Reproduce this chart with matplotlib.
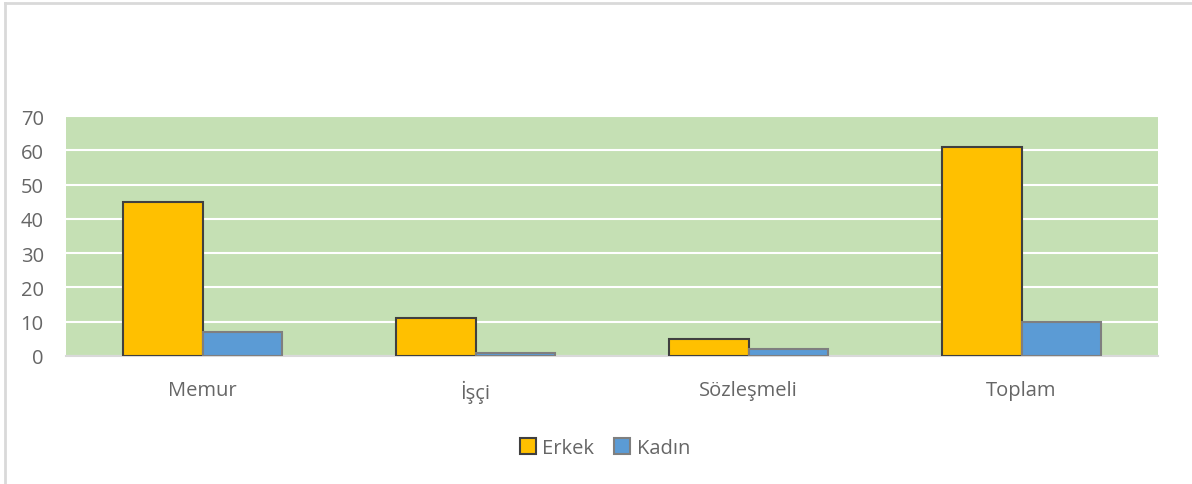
import matplotlib.pyplot as plt
import numpy as np

categories = ['Memur', 'İşçi', 'Sözleşmeli', 'Toplam']
erkek = [45, 11, 5, 61]
kadin = [7, 1, 2, 10]
yticks = [0, 10, 20, 30, 40, 50, 60, 70]

plt.rcParams['font.family'] = ['Open Sans', 'DejaVu Sans']

fig = plt.figure(figsize=(11.92, 4.85), dpi=100)
ax = fig.add_axes([66 / 1192, 128 / 485, 1092 / 1192, 240 / 485])
ax.set_facecolor('#C5E0B4')

x = np.arange(len(categories))
w = 0.29
ax.bar(x - w / 2, erkek, w, color='#FFC000', edgecolor='#404040', linewidth=1.5,
       label='Erkek', zorder=3)
ax.bar(x + w / 2, kadin, w, color='#5B9BD5', edgecolor='#7F7F7F', linewidth=1.5,
       label='Kadın', zorder=3)

ax.set_xlim(-0.5, len(categories) - 0.5)
ax.set_ylim(0, 70)
ax.set_yticks(yticks)
ax.yaxis.grid(True, color='white', linewidth=1.5, zorder=1)
ax.set_axisbelow(True)
for s in ['top', 'right', 'left']:
    ax.spines[s].set_visible(False)
ax.spines['bottom'].set_color('#D9D9D9')
ax.spines['bottom'].set_linewidth(1.5)

ax.set_xticks(x)
ax.set_xticklabels(categories)
ax.tick_params(axis='both', length=0, labelsize=14.5, labelcolor='#666666')
ax.tick_params(axis='x', pad=17)
ax.tick_params(axis='y', pad=16)

fig.legend(loc='center', bbox_to_anchor=(605 / 1192, 1 - 449 / 485), ncol=2,
           frameon=False, fontsize=14.5, handlelength=0.8, handleheight=0.8,
           handletextpad=0.3, columnspacing=1.0, labelcolor='#666666')

# chart frame (left and top edges visible)
fig.add_artist(plt.Line2D([4.5 / 1192, 4.5 / 1192], [0, 1 - 4 / 485], color='#D9D9D9', linewidth=2))
fig.add_artist(plt.Line2D([4.5 / 1192, 1], [1 - 4 / 485, 1 - 4 / 485], color='#D9D9D9', linewidth=2))

fig.savefig('out.png', dpi=100)
